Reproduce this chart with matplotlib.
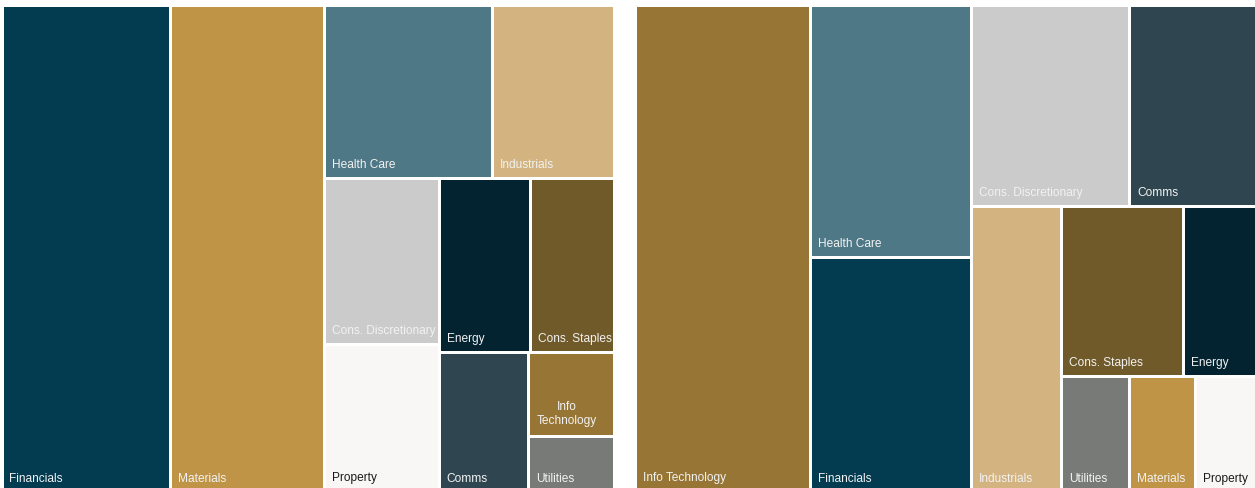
import matplotlib
matplotlib.use("Agg")
from matplotlib import pyplot as plt
from matplotlib.patches import Rectangle

# sector weights (%)
left_sectors = ["Financials", "Materials", "Health Care", "Industrials",
                "Cons. Discretionary", "Property", "Energy", "Cons. Staples",
                "Comms", "Info Technology", "Utilities"]
left_weights = [27.5, 25.2, 9.8, 7.1, 6.4, 5.7, 5.3, 4.9, 4.2, 2.4, 1.6]

right_sectors = ["Info Technology", "Health Care", "Financials",
                 "Cons. Discretionary", "Comms", "Industrials", "Cons. Staples",
                 "Energy", "Utilities", "Materials", "Property"]
right_weights = [28.1, 13.4, 12.5, 10.5, 8.5, 8.5, 6.8, 4.2, 2.6, 2.5, 2.4]

colors = {
    "Financials": "#033c50",
    "Materials": "#bf9446",
    "Health Care": "#4e7885",
    "Industrials": "#d3b37f",
    "Cons. Discretionary": "#cbcbcb",
    "Property": "#f8f7f5",
    "Energy": "#02232f",
    "Cons. Staples": "#715a2a",
    "Comms": "#2f4650",
    "Info Technology": "#967535",
    "Utilities": "#787a77",
}

# nesting of the splits: 'h' = side by side, 'v' = stacked
left_plan = ("h", [0, 1, ("v", [("h", [2, 3]),
                                ("h", [("v", [4, 5]),
                                       ("v", [("h", [6, 7]),
                                              ("h", [8, ("v", [9, 10])])])])])])
right_plan = ("h", [0, ("v", [1, 2]),
                    ("v", [("h", [3, 4]),
                           ("h", [5, ("v", [("h", [6, 7]),
                                            ("h", [8, 9, 10])])])])])

GAP = 3.0


def node_total(node, vals):
    if isinstance(node, int):
        return vals[node]
    return sum(node_total(k, vals) for k in node[1])


def layout(node, vals, x0, y0, x1, y1, out):
    if isinstance(node, int):
        out[node] = (x0, y0, x1, y1)
        return
    direction, kids = node
    total = node_total(node, vals)
    pos = x0 if direction == "h" else y0
    for k in kids:
        frac = node_total(k, vals) / total
        if direction == "h":
            step = (x1 - x0) * frac
            layout(k, vals, pos, y0, pos + step, y1, out)
        else:
            step = (y1 - y0) * frac
            layout(k, vals, x0, pos, x1, pos + step, out)
        pos += step


def draw_treemap(ax, renderer, names, vals, plan, box):
    rects = {}
    layout(plan, vals, *box, rects)
    for i, name in enumerate(names):
        x0, y0, x1, y1 = rects[i]
        x0, y0, x1, y1 = x0 + GAP / 2, y0 + GAP / 2, x1 - GAP / 2, y1 - GAP / 2
        ax.add_patch(Rectangle((x0, y0), x1 - x0, y1 - y0,
                               facecolor=colors[name], edgecolor="none"))
        tcol = "#1a1a1a" if name == "Property" else "#f2f2f2"
        t = ax.text(x0 + 6, y1 - 10, name, color=tcol, fontsize=8.6,
                    family=["Liberation Sans Narrow", "Liberation Sans"],
                    ha="left", va="baseline")
        w = t.get_window_extent(renderer).width
        if w > (x1 - x0) - 6 and " " in name:
            t.set_text(name.replace(" ", "\n", 1))
            t.set_multialignment("center")
            t.set_y(y1 - 12)


def main():
    fig = plt.figure(figsize=(12.55, 4.89), dpi=100)
    ax = fig.add_axes([0, 0, 1, 1])
    ax.set_xlim(0, 1255)
    ax.set_ylim(489, 0)
    ax.axis("off")
    renderer = fig.canvas.get_renderer()

    draw_treemap(ax, renderer, left_sectors, left_weights, left_plan,
                 (2, 6.5, 614, 493))
    draw_treemap(ax, renderer, right_sectors, right_weights, right_plan,
                 (635.5, 6.5, 1258, 493))

    fig.savefig("out.png", dpi=100, facecolor="white")


if __name__ == "__main__":
    main()
